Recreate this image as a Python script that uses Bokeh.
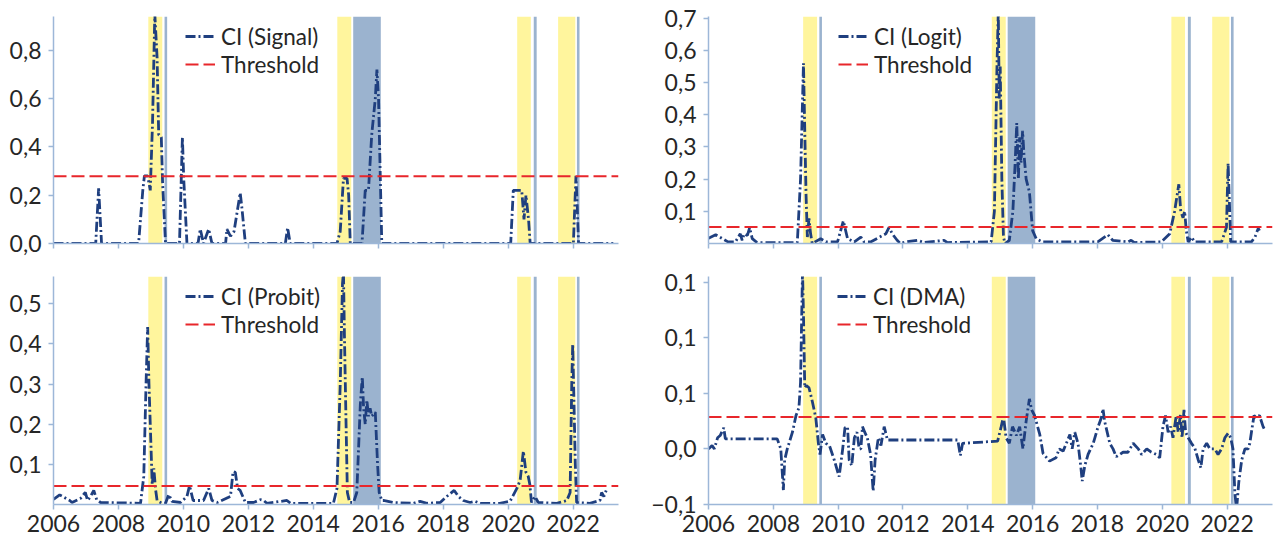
from bokeh.plotting import figure
from bokeh.models import (BoxAnnotation, FixedTicker, CustomJSTickFormatter, Range1d,
                          Legend, LegendItem)
from bokeh.layouts import column, row
from bokeh.embed import file_html
from bokeh.resources import INLINE

# ---------------- data ----------------
X_START, X_END = 2006.0, 2023.4
year_ticks = [2006, 2008, 2010, 2012, 2014, 2016, 2018, 2020, 2022]

# crisis shading (yellow) and recession-like shading (blue)
yellow_start = [2008.92, 2014.74, 2020.28, 2021.54]
yellow_end = [2009.35, 2015.17, 2020.70, 2022.07]
blue_start = [2009.42, 2015.23, 2020.79, 2022.12]
blue_end = [2009.50, 2016.08, 2020.88, 2022.20]

signal_t = [2006.0, 2007.30, 2007.39, 2007.48, 2008.62, 2008.75, 2008.80, 2008.90, 2008.98, 2009.05,
            2009.12, 2009.19, 2009.24, 2009.32, 2009.36, 2009.45, 2009.88, 2009.97, 2010.01, 2010.11,
            2010.45, 2010.52, 2010.62, 2010.78, 2010.88, 2011.30, 2011.34, 2011.45, 2011.56, 2011.75,
            2011.80, 2011.91, 2013.14, 2013.21, 2013.29, 2014.73, 2014.83, 2014.93, 2015.04, 2015.09,
            2015.14, 2015.50, 2015.60, 2015.70, 2015.80, 2015.91, 2015.96, 2016.01, 2016.06, 2016.11,
            2020.08, 2020.16, 2020.42, 2020.49, 2020.55, 2020.63, 2020.68, 2022.01, 2022.09, 2022.13,
            2022.17, 2023.24]
signal_v = [0, 0, 0.228, 0, 0, 0.22, 0.28, 0.28, 0.22, 0.5,
            0.95, 0.77, 0.45, 0.44, 0.25, 0, 0, 0.44, 0.27, 0,
            0, 0.06, 0, 0.06, 0, 0, 0.06, 0.03, 0.05, 0.21,
            0.15, 0, 0, 0.065, 0, 0, 0.05, 0.27, 0.27, 0.2,
            0, 0, 0.22, 0.22, 0.45, 0.6, 0.72, 0.6, 0.3, 0,
            0, 0.22, 0.22, 0.1, 0.2, 0.1, 0, 0, 0.28, 0.15,
            0, 0]
signal_thr = 0.278

logit_t = [2006.0, 2006.22, 2006.6, 2006.83, 2006.98, 2007.04, 2007.10, 2007.20, 2007.27, 2007.35,
           2007.50, 2008.74, 2008.84, 2008.93, 2008.97, 2009.01, 2009.05, 2009.10, 2009.15, 2009.20,
           2009.46, 2009.62, 2009.98, 2010.16, 2010.29, 2010.50, 2010.70, 2010.80, 2011.00, 2011.47,
           2011.57, 2011.67, 2011.82, 2011.92, 2012.10, 2012.44, 2012.65, 2013.27, 2013.37, 2014.72,
           2014.82, 2014.90, 2014.94, 2014.97, 2015.00, 2015.05, 2015.10, 2015.15, 2015.28, 2015.39,
           2015.46, 2015.51, 2015.56, 2015.60, 2015.64, 2015.69, 2015.73, 2015.80, 2015.90, 2016.00,
           2016.11, 2016.30, 2018.01, 2018.32, 2018.47, 2018.94, 2019.04, 2019.14, 2019.97, 2020.23,
           2020.38, 2020.51, 2020.57, 2020.64, 2020.69, 2020.74, 2020.80, 2020.90, 2021.00, 2021.83,
           2021.98, 2022.03, 2022.08, 2022.11, 2022.75, 2022.86, 2022.96, 2023.00]
logit_v = [0.016, 0.027, 0.005, 0.005, 0.03, 0.01, 0.03, 0.025, 0.049, 0.015,
           0.003, 0.003, 0.2, 0.56, 0.35, 0.15, 0.02, 0.078, 0.03, 0.0,
           0.015, 0.005, 0.005, 0.07, 0.015, 0.005, 0.02, 0.005, 0.005, 0.03,
           0.05, 0.03, 0.01, 0.0, 0.005, 0.01, 0.003, 0.01, 0.003, 0.005,
           0.1, 0.55, 0.72, 0.45, 0.55, 0.2, 0.02, 0.0, 0.01, 0.1,
           0.25, 0.374, 0.2, 0.33, 0.25, 0.35, 0.28, 0.2, 0.16, 0.04,
           0.015, 0.005, 0.005, 0.027, 0.01, 0.005, 0.01, 0.003, 0.005, 0.03,
           0.1, 0.184, 0.1, 0.08, 0.1, 0.04, 0.005, 0.02, 0.005, 0.005,
           0.05, 0.249, 0.1, 0.005, 0.005, 0.02, 0.047, 0.04]
logit_thr = 0.051

probit_pts = [
    (2006.00, 0.013), (2006.19, 0.024), (2006.50, 0.010), (2006.57, 0.005), (2006.83, 0.015),
    (2006.98, 0.030), (2007.05, 0.010), (2007.14, 0.020), (2007.24, 0.035), (2007.33, 0.012),
    (2007.45, 0.005), (2008.68, 0.003), (2008.78, 0.070), (2008.85, 0.300), (2008.90, 0.442),
    (2008.94, 0.300), (2008.98, 0.200), (2009.04, 0.050), (2009.09, 0.090), (2009.14, 0.040),
    (2009.19, 0.010), (2009.34, 0.003), (2009.45, 0.003), (2009.55, 0.025), (2009.65, 0.008),
    (2009.91, 0.005), (2010.11, 0.020), (2010.19, 0.047), (2010.30, 0.010), (2010.52, 0.010),
    (2010.62, 0.010), (2010.78, 0.040), (2010.88, 0.010), (2011.04, 0.005), (2011.45, 0.020),
    (2011.53, 0.082), (2011.60, 0.080), (2011.67, 0.040), (2011.75, 0.035), (2011.91, 0.005),
    (2012.16, 0.005), (2012.37, 0.012), (2012.47, 0.010), (2012.57, 0.003), (2013.19, 0.010),
    (2013.30, 0.003), (2014.62, 0.003), (2014.73, 0.040), (2014.83, 0.300), (2014.90, 0.550),
    (2014.93, 0.580), (2014.96, 0.420), (2015.01, 0.200), (2015.05, 0.030), (2015.12, 0.005),
    (2015.24, 0.005), (2015.34, 0.030), (2015.45, 0.250), (2015.51, 0.318), (2015.55, 0.240),
    (2015.60, 0.200), (2015.65, 0.260), (2015.70, 0.220), (2015.75, 0.240), (2015.80, 0.220),
    (2015.91, 0.230), (2015.98, 0.100), (2016.03, 0.030), (2016.11, 0.010), (2016.16, 0.010),
    (2016.47, 0.005), (2017.09, 0.003), (2017.29, 0.008), (2017.50, 0.003), (2017.91, 0.005),
    (2018.11, 0.020), (2018.34, 0.035), (2018.47, 0.020), (2018.62, 0.010), (2018.83, 0.005),
    (2018.98, 0.008), (2019.14, 0.003), (2019.75, 0.003), (2020.06, 0.008), (2020.27, 0.040),
    (2020.37, 0.060), (2020.47, 0.133), (2020.55, 0.080), (2020.62, 0.070), (2020.67, 0.050),
    (2020.72, 0.005), (2020.83, 0.020), (2020.93, 0.005), (2021.50, 0.003), (2021.81, 0.010),
    (2021.91, 0.030), (2021.96, 0.300), (2021.99, 0.400), (2022.03, 0.250), (2022.07, 0.100),
    (2022.11, 0.005), (2022.52, 0.003), (2022.83, 0.010), (2022.88, 0.030), (2022.95, 0.020),
    (2023.02, 0.035),
]
probit_thr = 0.046

dma_pts = [
    (2006.00, 0.000), (2006.11, 0.003), (2006.18, 0.000), (2006.28, 0.010), (2006.36, 0.012),
    (2006.47, 0.019), (2006.52, 0.009), (2008.12, 0.009), (2008.23, 0.000), (2008.31, -0.037),
    (2008.35, -0.010), (2008.43, 0.000), (2008.59, 0.015), (2008.70, 0.030), (2008.79, 0.037),
    (2008.84, 0.060), (2008.90, 0.160), (2008.93, 0.121), (2008.97, 0.055), (2009.02, 0.057),
    (2009.10, 0.055), (2009.20, 0.043), (2009.31, 0.028), (2009.39, 0.005), (2009.44, -0.005),
    (2009.52, 0.013), (2009.62, 0.005), (2009.73, 0.003), (2009.88, -0.010), (2010.03, -0.025),
    (2010.14, 0.000), (2010.21, 0.019), (2010.29, 0.020), (2010.34, -0.010), (2010.42, -0.015),
    (2010.50, 0.010), (2010.58, 0.015), (2010.65, 0.000), (2010.70, 0.000), (2010.75, 0.020),
    (2010.82, 0.015), (2010.90, 0.010), (2011.00, -0.005), (2011.08, -0.038), (2011.14, -0.010),
    (2011.19, 0.000), (2011.24, 0.010), (2011.32, 0.003), (2011.42, 0.020), (2011.52, 0.008),
    (2013.69, 0.008), (2013.77, -0.006), (2013.84, 0.005), (2014.92, 0.007), (2015.03, 0.020),
    (2015.10, 0.029), (2015.18, 0.010), (2015.28, 0.005), (2015.38, 0.020), (2015.50, 0.012),
    (2015.60, 0.020), (2015.70, 0.000), (2015.80, 0.025), (2015.90, 0.045), (2015.97, 0.035),
    (2016.06, 0.030), (2016.22, 0.013), (2016.32, -0.004), (2016.52, -0.011), (2016.72, -0.008),
    (2016.82, 0.000), (2016.94, -0.002), (2017.04, 0.005), (2017.15, 0.013), (2017.22, 0.000),
    (2017.30, 0.015), (2017.40, 0.005), (2017.49, -0.017), (2017.53, -0.029), (2017.61, -0.015),
    (2017.71, -0.005), (2017.87, 0.005), (2018.02, 0.020), (2018.12, 0.028), (2018.17, 0.036),
    (2018.22, 0.025), (2018.38, 0.005), (2018.48, 0.000), (2018.58, -0.007), (2018.79, -0.003),
    (2018.94, -0.003), (2019.00, 0.000), (2019.10, 0.005), (2019.26, 0.000), (2019.36, -0.005),
    (2019.52, 0.000), (2019.66, -0.003), (2019.82, -0.005), (2019.92, -0.008), (2020.02, 0.020),
    (2020.10, 0.030), (2020.18, 0.015), (2020.26, 0.020), (2020.33, 0.010), (2020.43, 0.030),
    (2020.49, 0.015), (2020.56, 0.031), (2020.61, 0.010), (2020.67, 0.035), (2020.72, 0.015),
    (2020.80, 0.010), (2020.90, 0.005), (2021.00, 0.001), (2021.11, -0.010), (2021.19, -0.017),
    (2021.26, 0.000), (2021.37, 0.005), (2021.47, 0.000), (2021.62, 0.000), (2021.72, -0.005),
    (2021.83, 0.000), (2021.93, 0.010), (2022.03, 0.014), (2022.11, 0.010), (2022.18, 0.000),
    (2022.24, -0.040), (2022.29, -0.055), (2022.36, -0.030), (2022.45, -0.010), (2022.55, 0.000),
    (2022.65, 0.000), (2022.70, 0.005), (2022.75, 0.015), (2022.83, 0.030), (2022.90, 0.028),
    (2023.00, 0.030), (2023.11, 0.020), (2023.18, 0.016),
]
dma_thr = 0.0286

probit_t = [a for a, b in probit_pts]
probit_v = [b for a, b in probit_pts]
dma_t = [a for a, b in dma_pts]
dma_v = [b for a, b in dma_pts]

# ---------------- style ----------------
NAVY = "#1F3F7F"
RED = "#E8262B"
YELLOW = "#FFF59D"
BLUE = "#9BB3CF"
AXIS = "#9DB7D8"
TXT = "#262626"
FONT = "Lato"
FS = "23px"
LEG_FS = "22.5px"

fmt = CustomJSTickFormatter(code="return tick.toFixed(1).replace('.', ',').replace('-', '\u2212');")
blank_fmt = CustomJSTickFormatter(code="return '';")


def style_legend(lg):
    lg.background_fill_alpha = 0
    lg.border_line_alpha = 0
    lg.label_text_font = FONT
    lg.label_text_font_size = LEG_FS
    lg.label_text_color = TXT
    lg.glyph_width = 30
    lg.glyph_height = 30
    lg.label_height = 30
    lg.label_standoff = 6
    lg.padding = 0
    lg.margin = 0
    lg.spacing = 0


def panel(t, v, thr, name, yr, yticks, width, height, bl, br, bt, bb, xlabels, leg_x, leg_y1, leg_y2):
    p = figure(width=width, height=height, output_backend="svg", toolbar_location=None,
               x_range=Range1d(X_START, X_END), y_range=Range1d(*yr),
               min_border_left=bl, min_border_right=br, min_border_top=bt, min_border_bottom=bb)
    p.outline_line_color = None
    p.xgrid.visible = False
    p.ygrid.visible = False
    p.background_fill_color = "white"
    for s, e in zip(yellow_start, yellow_end):
        p.add_layout(BoxAnnotation(left=s, right=e, fill_color=YELLOW, fill_alpha=1,
                                   line_alpha=0, level="underlay"))
    for s, e in zip(blue_start, blue_end):
        p.add_layout(BoxAnnotation(left=s, right=e, fill_color=BLUE, fill_alpha=1,
                                   line_alpha=0, level="underlay"))
    r1 = p.line(t, v, line_color=NAVY, line_width=2.8, line_dash="10 3 2 3")
    r2 = p.line([X_START, X_END], [thr, thr], line_color=RED, line_width=2, line_dash="13 5")

    for ax in (p.xaxis[0], p.yaxis[0]):
        ax.axis_line_color = AXIS
        ax.axis_line_width = 1.5
        ax.major_tick_line_color = AXIS
        ax.major_tick_line_width = 1.5
        ax.minor_tick_line_color = None
        ax.major_tick_out = 5
        ax.major_tick_in = 0
        ax.major_label_text_font = FONT
        ax.major_label_text_font_size = FS
        ax.major_label_text_color = TXT
    p.xaxis.ticker = FixedTicker(ticks=year_ticks)
    p.xaxis.major_label_standoff = 5
    if not xlabels:
        p.xaxis.formatter = blank_fmt
        p.xaxis.major_label_text_font_size = "2px"
        p.xaxis.major_label_standoff = 0
    p.yaxis.ticker = FixedTicker(ticks=yticks)
    p.yaxis.formatter = fmt
    p.yaxis.major_label_standoff = 7

    lg1 = Legend(items=[LegendItem(label=f"CI ({name})", renderers=[r1])], location=(leg_x, leg_y1))
    lg2 = Legend(items=[LegendItem(label="Threshold", renderers=[r2])], location=(leg_x, leg_y2))
    for lg in (lg1, lg2):
        style_legend(lg)
        p.add_layout(lg, "center")
    return p


p1 = panel(signal_t, signal_v, signal_thr, "Signal", (0, 0.94), [0, 0.2, 0.4, 0.6, 0.8],
           640, 260, 53, 22, 16, 17, False, 132, 192, 164)
p2 = panel(logit_t, logit_v, logit_thr, "Logit", (0, 0.705), [0.1, 0.2, 0.3, 0.4, 0.5, 0.6, 0.7],
           640, 260, 68, 8, 16, 17, False, 130, 192, 164)
p3 = panel(probit_t, probit_v, probit_thr, "Probit", (0, 0.568), [0.1, 0.2, 0.3, 0.4, 0.5],
           640, 282, 53, 22, 16, 38, True, 132, 193, 165)
p4 = panel(dma_t, dma_v, dma_thr, "DMA", (-0.05, 0.155), [-0.05, 0, 0.05, 0.10, 0.15],
           640, 282, 68, 8, 16, 38, True, 129, 193, 165)

layout = column(row(p1, p2), row(p3, p4))
open("out.html", "w").write(file_html(layout, INLINE))
